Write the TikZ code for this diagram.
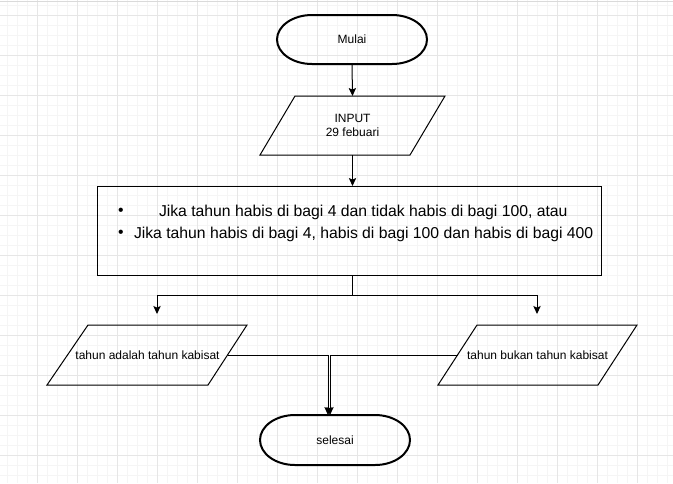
\documentclass[tikz,border=0pt]{standalone}
\usepackage{fontspec}
\setmainfont{Liberation Sans}
\usetikzlibrary{arrows.meta}
\definecolor{minorgrid}{HTML}{F5F5F5}
\definecolor{majorgrid}{HTML}{E6E6E6}
\definecolor{topline}{HTML}{DADADA}
\begin{document}
\begin{tikzpicture}[x=0.75pt,y=-0.75pt,
 mingrid/.style={draw=minorgrid,line width=0.75pt},
 majgrid/.style={draw=majorgrid,line width=0.75pt},
 outline/.style={draw=black,line width=0.75pt},
 termline/.style={draw=black,line width=1.5pt},
 conn/.style={draw=black,line width=0.75pt,-{Stealth[length=6pt,width=5.5pt,inset=1.2pt]}},
 plainconn/.style={draw=black,line width=0.75pt},
 lbl/.style={font=\fontsize{9}{10.8}\selectfont,inner sep=0pt,outer sep=0pt,align=center},
 biglbl/.style={font=\fontsize{11.8}{14.2}\selectfont,inner sep=0pt,outer sep=0pt}
]
\useasboundingbox (0,0) rectangle (673,483);
\fill[white] (0,0) rectangle (673,483);
% grid
\foreach \i in {7,17,...,667} \draw[mingrid] (\i,0) -- (\i,483);
\foreach \j in {5,15,...,475} \draw[mingrid] (0,\j) -- (673,\j);
\foreach \i in {37,77,...,637} \draw[majgrid] (\i,0) -- (\i,483);
\foreach \j in {15,55,...,455} \draw[majgrid] (0,\j) -- (673,\j);
\draw[draw=topline,line width=0.75pt] (0,1.5) -- (673,1.5);

% Mulai terminator
\draw[termline] (312,15) -- (392,15) arc[start angle=-90,end angle=90,x radius=35,y radius=24.5]
  -- (312,64) arc[start angle=90,end angle=270,x radius=35,y radius=24.5] -- cycle;
\node[lbl,minimum width=112.5pt,minimum height=36.75pt] (mulai) at (352,39.5) {Mulai};

% INPUT parallelogram
\draw[outline] (295,96) -- (445,96) -- (410,155) -- (260,155) -- cycle;
\node[lbl,minimum width=138.75pt,minimum height=44.25pt] (input) at (352.5,125.5) {INPUT\\29 febuari};

% condition box
\node[outline,inner sep=0pt,outer sep=0pt,minimum width=378pt,minimum height=66.75pt] (rect) at (349,230.5) {};
\node[biglbl] (b1) at (121,212) {•};
\node[biglbl] (b2) at (121,234) {•};
\node[biglbl,anchor=west] (l1) at (159,212) {Jika tahun habis di bagi 4 dan tidak habis di bagi 100, atau};
\node[biglbl,anchor=west] (l2) at (134,234) {Jika tahun habis di bagi 4, habis di bagi 100 dan habis di bagi 400};

% output parallelograms
\draw[outline] (88,325) -- (247,325) -- (208,385) -- (47,385) -- cycle;
\node[lbl,minimum width=150pt,minimum height=45pt] (kab) at (147.5,355.5) {tahun adalah tahun kabisat};
\draw[outline] (477,325) -- (637,325) -- (598,385) -- (438,385) -- cycle;
\node[lbl,minimum width=149.25pt,minimum height=45pt] (bukan) at (537.5,355.5) {tahun bukan tahun kabisat};

% selesai terminator
\draw[termline] (295,415) -- (375,415) arc[start angle=-90,end angle=90,x radius=35,y radius=25]
  -- (295,465) arc[start angle=90,end angle=270,x radius=35,y radius=25] -- cycle;
\node[lbl,minimum width=112.5pt,minimum height=37.5pt] (selesai) at (335,440) {selesai};

% connector points
\coordinate (split) at (352.5,295);
\coordinate (kabtop) at (157,314);
\coordinate (bukantop) at (537,314);
\coordinate (kabR) at (227.5,355.5);
\coordinate (bukanL) at (457.5,355.5);

% connectors
\draw[conn] (mulai.south) -- (input.north);
\draw[conn] (input.south) -- (input.south |- rect.north);
\draw[plainconn] (rect.south -| split) -- (split);
\draw[conn] (split) -| (kabtop);
\draw[conn] (split) -| (bukantop);
\draw[conn] (kabR) -| ([xshift=-5.25pt]selesai.north);
\draw[conn] (bukanL) -| ([xshift=-3.75pt]selesai.north);
\end{tikzpicture}
\end{document}
